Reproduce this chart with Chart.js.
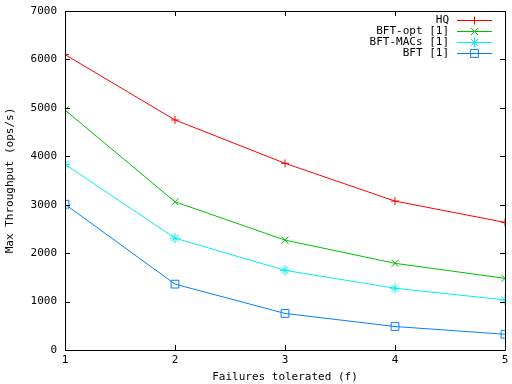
<!DOCTYPE html>
<html>
<head>
<meta charset="utf-8">
<script src="https://cdn.jsdelivr.net/npm/chart.js@4/dist/chart.umd.min.js"></script>
<style>
  html, body { margin: 0; padding: 0; background: #fff; }
  #wrap { width: 512px; height: 384px; }
</style>
</head>
<body>
<div id="wrap"><canvas id="chart" width="512" height="384"></canvas></div>
<script>
// failures tolerated (f)
const failures = [1, 2, 3, 4, 5];

// max throughput (ops/s)
const hq      = [6100, 4750, 3855, 3075, 2635];
const bftOpt  = [4955, 3060, 2270, 1790, 1480];
const bftMacs = [3835, 2310, 1645, 1275, 1035];
const bft     = [3010, 1360, 755, 485, 325];

const yTicks = [0, 1000, 2000, 3000, 4000, 5000, 6000, 7000];

const FONT = "'DejaVu Sans Mono', 'Liberation Mono', monospace";

function toPoints(vals) {
    return failures.map((f, i) => ({ x: f, y: vals[i] }));
}

function series(label, vals, color, style, radius) {
    return {
        label: label,
        data: toPoints(vals),
        borderColor: color,
        backgroundColor: "rgba(0,0,0,0)",
        borderWidth: 1,
        pointStyle: style,
        pointRadius: radius,
        pointBorderColor: color,
        pointBackgroundColor: "rgba(0,0,0,0)",
        pointBorderWidth: 1,
        pointHoverRadius: radius,
        tension: 0,
    };
}

// gnuplot-like frame: box border, inward mirrored ticks, key in the top right
const gnuFrame = {
    id: "gnuFrame",
    afterDatasetsDraw(chart) {
        const ctx = chart.ctx;
        const a = chart.chartArea;
        const xs = chart.scales.x;
        const ys = chart.scales.y;
        const len = 5;
        ctx.save();
        ctx.strokeStyle = "#000";
        ctx.lineWidth = 1;
        ctx.beginPath();
        ctx.rect(Math.round(a.left) + 0.5, Math.round(a.top) + 0.5,
                 Math.round(a.right - a.left), Math.round(a.bottom - a.top));
        xs.ticks.forEach(t => {
            const px = Math.round(xs.getPixelForValue(t.value)) + 0.5;
            ctx.moveTo(px, a.bottom); ctx.lineTo(px, a.bottom - len);
            ctx.moveTo(px, a.top); ctx.lineTo(px, a.top + len);
        });
        ys.ticks.forEach(t => {
            const py = Math.round(ys.getPixelForValue(t.value)) + 0.5;
            ctx.moveTo(a.left, py); ctx.lineTo(a.left + len, py);
            ctx.moveTo(a.right, py); ctx.lineTo(a.right - len, py);
        });
        ctx.stroke();

        // key
        ctx.font = "11px " + FONT;
        ctx.textAlign = "right";
        ctx.textBaseline = "middle";
        const textRight = 449, lineL = 457, lineR = 492;
        chart.data.datasets.forEach((ds, i) => {
            const y = 20.5 + i * 11;
            ctx.fillStyle = "#000";
            ctx.fillText(ds.label, textRight, y);
            ctx.strokeStyle = ds.borderColor;
            ctx.fillStyle = "rgba(0,0,0,0)";
            ctx.beginPath();
            ctx.moveTo(lineL, y); ctx.lineTo(lineR, y);
            ctx.stroke();
            if (Chart.helpers && Chart.helpers.drawPoint) {
                Chart.helpers.drawPoint(ctx, {
                    pointStyle: ds.pointStyle, radius: ds.pointRadius,
                    borderWidth: 1, rotation: 0
                }, (lineL + lineR) / 2, y);
            }
        });
        ctx.restore();
    }
};

new Chart(document.getElementById("chart"), {
    type: "line",
    data: {
        datasets: [
            series("HQ", hq, "#ff0000", "cross", 4),
            series("BFT-opt [1]", bftOpt, "#00c000", "crossRot", 5),
            series("BFT-MACs [1]", bftMacs, "#00eeee", "star", 5),
            series("BFT [1]", bft, "#0080ff", "rect", 5.5),
        ]
    },
    options: {
        responsive: false,
        animation: false,
        events: [],
        layout: { padding: { top: 11, right: 7, left: 0, bottom: 0 } },
        plugins: {
            legend: { display: false },
            tooltip: { enabled: false },
        },
        scales: {
            x: {
                type: "linear",
                min: 1,
                max: 5,
                afterBuildTicks: (s) => { s.ticks = failures.map(v => ({ value: v })); },
                ticks: {
                    color: "#000", font: { family: FONT, size: 11 }, padding: 4, maxRotation: 0,
                    callback: (v) => String(v)
                },
                grid: { display: false, drawTicks: false },
                border: { display: false },
                title: {
                    display: true, text: "Failures tolerated (f)", color: "#000",
                    font: { family: FONT, size: 11 }, padding: { top: 3, bottom: 0 }
                },
                afterFit: (s) => { s.height = 34; s.paddingLeft = 0; s.paddingRight = 0; },
            },
            y: {
                type: "linear",
                min: 0,
                max: 7000,
                afterBuildTicks: (s) => { s.ticks = yTicks.map(v => ({ value: v })); },
                ticks: {
                    color: "#000", font: { family: FONT, size: 11 }, padding: 8,
                    callback: (v) => String(v)
                },
                grid: { display: false, drawTicks: false },
                border: { display: false },
                title: {
                    display: true, text: "Max Throughput (ops/s)", color: "#000",
                    font: { family: FONT, size: 11 }, padding: { top: 4, bottom: 0 }
                },
                afterFit: (s) => { s.width = 65; s.paddingTop = 0; s.paddingBottom = 0; },
            }
        }
    },
    plugins: [gnuFrame]
});
</script>
</body>
</html>
